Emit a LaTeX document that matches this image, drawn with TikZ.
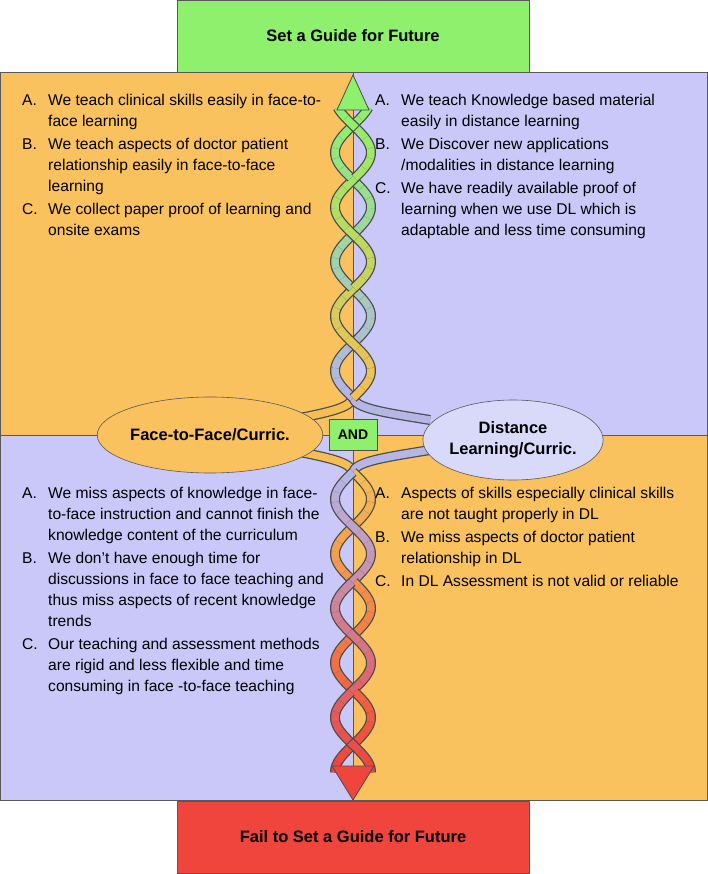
\documentclass[tikz,border=0pt]{standalone}
\usepackage{fontspec}
\setmainfont{Liberation Sans}
\usepackage{array}
\begin{document}
\begin{tikzpicture}[x=1pt,y=-1pt,
  quad/.style={draw=gray!70!black,line width=0.6pt},
  titlebox/.style={draw=gray!70!black,line width=0.6pt,minimum width=352pt,minimum height=72pt,font=\bfseries\fontsize{16.5}{18}\selectfont},
  lst/.style={anchor=north west,inner sep=0pt,font=\fontsize{15.6}{21}\selectfont,align=left},
  ell/.style={ellipse,draw=gray!70!black,line width=0.6pt,font=\bfseries\fontsize{16.5}{21}\selectfont,align=center,inner sep=0pt}]
\usetikzlibrary{shapes.geometric}
\definecolor{qor}{HTML}{F9C25E}
\definecolor{qpu}{HTML}{C9C8F8}
\definecolor{qgr}{HTML}{8EF06C}
\definecolor{qrd}{HTML}{F0453C}
\definecolor{stor}{HTML}{F4BE55}
\definecolor{stpu}{HTML}{B4B6E6}
\useasboundingbox (0,0) rectangle (707,874);
\fill[white] (0,0) rectangle (707,874);
\filldraw[quad,fill=qor] (0,72) rectangle (353,435);
\filldraw[quad,fill=qpu] (353,72) rectangle (707,435);
\filldraw[quad,fill=qpu] (0,435) rectangle (353,800);
\filldraw[quad,fill=qor] (353,435) rectangle (707,800);
\node[titlebox,fill=qgr] (top) at (353,36) {Set a Guide for Future};
\node[titlebox,fill=qrd] (bot) at (353,837) {Fail to Set a Guide for Future};
% connectors from ellipses
\foreach \p/\c in {
  {(290,420) .. controls (330,412) and (350,408) .. (353,398)}/stor,
  {(430,420) .. controls (380,412) and (356,408) .. (353,398)}/stpu,
  {(290,450) .. controls (330,458) and (350,462) .. (353,472)}/stor,
  {(430,450) .. controls (380,458) and (356,462) .. (353,472)}/stpu}
  {\draw[line width=10pt,gray!60!black] \p; \draw[line width=7.5pt,\c] \p;}
% twisted strands top
\foreach \i in {0,...,28}{
  \pgfmathsetmacro\ya{398-10*\i}\pgfmathsetmacro\yb{398-10*\i-10.5}
  \pgfmathsetmacro\m{min(100,\i*100/28)}
  \colorlet{ca}{qgr!\m!stor}\colorlet{cb}{qgr!\m!stpu}
  \draw[line width=10pt,gray!60!black] plot[domain=\ya:\yb,samples=6,smooth] ({353-18*sin(3.3*(398-\x))},\x);
  \draw[line width=7.5pt,cb] plot[domain=\ya:\yb,samples=6,smooth] ({353-18*sin(3.3*(398-\x))},\x);
  \draw[line width=10pt,gray!60!black] plot[domain=\ya:\yb,samples=6,smooth] ({353+18*sin(3.3*(398-\x))},\x);
  \draw[line width=7.5pt,ca] plot[domain=\ya:\yb,samples=6,smooth] ({353+18*sin(3.3*(398-\x))},\x);
}
% bottom strands
\foreach \i in {0,...,29}{
  \pgfmathsetmacro\ya{472+10*\i}\pgfmathsetmacro\yb{472+10*\i+10.5}
  \pgfmathsetmacro\m{min(100,\i*100/29)}
  \colorlet{ca}{qrd!\m!stor}\colorlet{cb}{qrd!\m!stpu}
  \draw[line width=10pt,gray!60!black] plot[domain=\ya:\yb,samples=6,smooth] ({353+18*sin(3.3*(\x-472))},\x);
  \draw[line width=7.5pt,ca] plot[domain=\ya:\yb,samples=6,smooth] ({353+18*sin(3.3*(\x-472))},\x);
  \draw[line width=10pt,gray!60!black] plot[domain=\ya:\yb,samples=6,smooth] ({353-18*sin(3.3*(\x-472))},\x);
  \draw[line width=7.5pt,cb] plot[domain=\ya:\yb,samples=6,smooth] ({353-18*sin(3.3*(\x-472))},\x);
}
\filldraw[fill=qgr,draw=gray!60!black,line width=0.8pt] (353,75) -- (369,110) -- (337,110) -- cycle;
\filldraw[fill=qrd,draw=gray!60!black,line width=0.8pt] (353,800) -- (374,766) -- (332,766) -- cycle;
\node[ell,fill=qor,minimum width=204pt,minimum height=76pt] (ff) at (210,435) {Face-to-Face/Curric.};
\node[ell,fill=qpu!70!white,minimum width=176pt,minimum height=80pt] (dl) at (513,440) {Distance\\Learning/Curric.};
\node[draw=gray!60!black,fill=qgr,font=\bfseries\fontsize{14}{16}\selectfont,minimum width=48pt,minimum height=31pt,inner sep=2pt] (and) at (353,435) {AND};
\node[lst] (tl) at (22,91) {\begin{tabular}{@{}p{26pt}@{}l@{}}
A. & We teach clinical skills easily in face-to-\\
 & face learning\\[2pt]
B. & We teach aspects of doctor patient\\
 & relationship easily in face-to-face\\
 & learning\\[2pt]
C. & We collect paper proof of learning and\\
 & onsite exams\end{tabular}};
\node[lst] (tr) at (375,91) {\begin{tabular}{@{}p{26pt}@{}l@{}}
A. & We teach Knowledge based material\\
 & easily in distance learning\\[2pt]
B. & We Discover new applications\\
 & /modalities in distance learning\\[2pt]
C. & We have readily available proof of\\
 & learning when we use DL which is\\
 & adaptable and less time consuming\end{tabular}};
\node[lst] (bl) at (22,484) {\begin{tabular}{@{}p{26pt}@{}l@{}}
A. & We miss aspects of knowledge in face-\\
 & to-face instruction and cannot finish the\\
 & knowledge content of the curriculum\\[2pt]
B. & We don't have enough time for\\
 & discussions in face to face teaching and\\
 & thus miss aspects of recent knowledge\\
 & trends\\[2pt]
C. & Our teaching and assessment methods\\
 & are rigid and less flexible and time\\
 & consuming in face -to-face teaching\end{tabular}};
\node[lst] (br) at (375,484) {\begin{tabular}{@{}p{26pt}@{}l@{}}
A. & Aspects of skills especially clinical skills\\
 & are not taught properly in DL\\[2pt]
B. & We miss aspects of doctor patient\\
 & relationship in DL\\[2pt]
C. & In DL Assessment is not valid or reliable\end{tabular}};
\end{tikzpicture}
\end{document}
